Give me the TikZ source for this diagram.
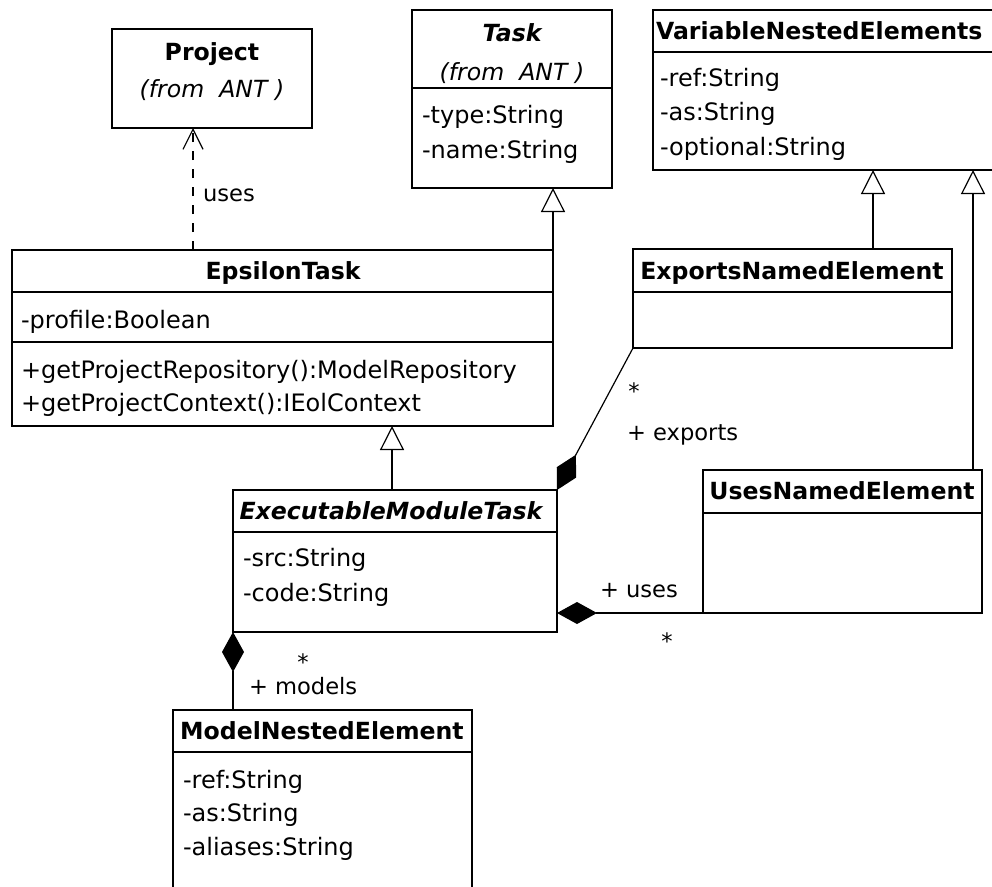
\documentclass[tikz,border=0pt]{standalone}
\usepackage{fontspec}
\setmainfont{DejaVu Sans}
\usetikzlibrary{arrows.meta}
\begin{document}
\begin{tikzpicture}[x=1pt,y=-1pt,
  every node/.style={inner sep=0pt,outer sep=0pt,font=\fontsize{24}{28}\selectfont},
  cls/.style={draw,line width=1.2pt,anchor=north west,inner sep=0pt,outer sep=0pt},
  txt/.style={anchor=west,text height=21pt,text depth=4pt},
  ctr/.style={anchor=center,text height=21pt,text depth=4pt},
  hdr/.style={ctr,font=\fontsize{23.6}{28}\selectfont\bfseries},
  ihdr/.style={ctr,font=\fontsize{23.6}{28}\selectfont\bfseries\itshape},
  itl/.style={ctr,font=\fontsize{23.6}{28}\selectfont\itshape},
  lbl/.style={txt,font=\fontsize{22.6}{26}\selectfont},
  star/.style={anchor=center,font=\fontsize{22.6}{26}\selectfont},
  divl/.style={line width=1.2pt},
  gen/.style={line width=1.2pt,-{Triangle[open,length=24pt,width=24pt]}},
  dep/.style={line width=1.2pt,dash pattern=on 9pt off 9pt,-{Straight Barb[length=20pt,width=20pt]}},
  comp/.style={line width=1.2pt,-{Diamond[length=40pt,width=22pt]}}
]
\useasboundingbox (0,0) rectangle (992,886);
\clip (0,0) rectangle (992,886);

% class boxes
\node[cls,minimum width=200pt,minimum height=99pt] (project) at (112,29) {};
\node[cls,minimum width=200pt,minimum height=178pt] (task) at (412,10) {};
\node[cls,minimum width=343pt,minimum height=160pt] (vne) at (653,10) {};
\node[cls,minimum width=541pt,minimum height=176pt] (eps) at (12,250) {};
\node[cls,minimum width=319pt,minimum height=99pt] (exports) at (633,249) {};
\node[cls,minimum width=324pt,minimum height=142pt] (exec) at (233,490) {};
\node[cls,minimum width=279pt,minimum height=143pt] (uses) at (703,470) {};
\node[cls,minimum width=299pt,minimum height=185pt] (model) at (173,710) {};

% dividers
\draw[divl] (412,88) -- (612,88);
\draw[divl] (653,52) -- (996,52);
\draw[divl] (12,292) -- (553,292);
\draw[divl] (12,342) -- (553,342);
\draw[divl] (633,292) -- (952,292);
\draw[divl] (233,532) -- (557,532);
\draw[divl] (703,513) -- (982,513);
\draw[divl] (173,752) -- (472,752);

% Project
\node[hdr] (projectName) at (212,52) {Project};
\node[itl] (projectFrom) at (212,89) {(from\ \ ANT )};
% Task
\node[ihdr] (taskName) at (512,33) {Task};
\node[itl] (taskFrom) at (512,72) {(from\ \ ANT )};
\node[txt] (taskA1) at (422,115) {-type:String};
\node[txt] (taskA2) at (422,150) {-name:String};
% VariableNestedElements
\node[hdr,anchor=west] (vneName) at (656,31) {VariableNestedElements};
\node[txt] (vneA1) at (660,78) {-ref:String};
\node[txt] (vneA2) at (660,112) {-as:String};
\node[txt] (vneA3) at (660,147) {-optional:String};
% EpsilonTask
\node[hdr] (epsName) at (283,271) {EpsilonTask};
\node[txt] (epsA1) at (21,320) {-profile:Boolean};
\node[txt] (epsM1) at (21,370) {+getProjectRepository():ModelRepository};
\node[txt] (epsM2) at (21,403) {+getProjectContext():IEolContext};
% ExportsNamedElement
\node[hdr] (exportsName) at (792,271) {ExportsNamedElement};
% ExecutableModuleTask
\node[ihdr] (execName) at (391,511) {ExecutableModuleTask};
\node[txt] (execA1) at (243,558) {-src:String};
\node[txt] (execA2) at (243,593) {-code:String};
% UsesNamedElement
\node[hdr] (usesName) at (842,491) {UsesNamedElement};
% ModelNestedElement
\node[hdr] (modelName) at (322,731) {ModelNestedElement};
\node[txt] (modelA1) at (183,780) {-ref:String};
\node[txt] (modelA2) at (183,813) {-as:String};
\node[txt] (modelA3) at (183,847) {-aliases:String};

% helper x positions
\coordinate (xdep) at (193,0);
\coordinate (xexec) at (392,0);
\coordinate (xexp) at (873,0);
\coordinate (xuse) at (973,0);

% dependency
\draw[dep] (eps.north -| xdep) -- (project.south -| xdep);
\node[lbl] (usesDep) at (203,193) {uses};

% generalizations
\draw[gen] (eps.north east) -- (task.south -| eps.north east);
\draw[gen] (exec.north -| xexec) -- (eps.south -| xexec);
\draw[gen] (exports.north -| xexp) -- (vne.south -| xexp);
\draw[gen] (uses.north -| xuse) -- (vne.south -| xuse);

% compositions
\draw[comp] (exports.south west) -- (exec.north east);
\node[star] (expStar) at (634,391) {*};
\node[lbl] (expLbl) at (627,432) {+ exports};

\draw[comp] (uses.south west) -- (uses.south west -| exec.east);
\node[lbl] (useLbl) at (600,589) {+ uses};
\node[star] (useStar) at (667,641) {*};

\draw[comp] (model.north -| exec.south west) -- (exec.south west);
\node[star] (modStar) at (303,662) {*};
\node[lbl] (modLbl) at (249,686) {+ models};
\end{tikzpicture}
\end{document}
